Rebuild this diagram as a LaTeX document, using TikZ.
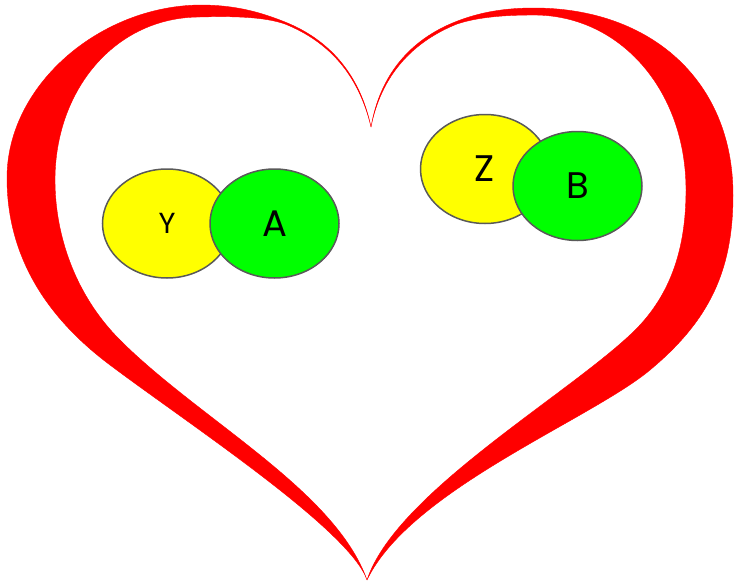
\documentclass[tikz,border=0pt]{standalone}
\usepackage{fontspec}
\setmainfont{Poppins}
\usetikzlibrary{shapes.geometric}
\definecolor{heartred}{RGB}{255,0,0}
\definecolor{ballyellow}{RGB}{255,255,0}
\definecolor{ballgreen}{RGB}{0,255,0}
\definecolor{ballrim}{RGB}{89,89,89}
\tikzset{
    ball/.style={
        ellipse, draw=ballrim, line width=1.5pt, inner sep=0pt,
        minimum width=129pt, minimum height=109pt,
        font=\fontsize{37}{37}\selectfont
    },
    yellow ball/.style={ball, fill=ballyellow},
    green ball/.style={ball, fill=ballgreen},
    heart band/.style={fill=heartred, draw=heartred, line width=0.4pt}
}

\begin{document}
\begin{tikzpicture}[x=1pt,y=-1pt]
    \useasboundingbox (0,0) rectangle (734,584);
    \coordinate (cusp) at (371,127);
    \coordinate (tip) at (367,580);
    % left half of the heart
    \filldraw[heart band] (cusp) .. controls (360,75) and (330,40) .. (285,22)
        .. controls (260,12) and (235,5) .. (200,5)
        .. controls (100,6) and (7,85) .. (7,178)
        .. controls (7,260) and (50,320) .. (110,365)
        .. controls (190,425) and (350,530) .. (tip)
        .. controls (335,490) and (200,420) .. (120,340)
        .. controls (75,295) and (55,235) .. (55,180)
        .. controls (55,90) and (115,17) .. (200,17)
        .. controls (235,16) and (265,17) .. (285,24)
        .. controls (330,42) and (359,76) .. (cusp) -- cycle;
    % right half of the heart
    \filldraw[heart band] (cusp) .. controls (380,75) and (410,40) .. (455,22)
        .. controls (480,12) and (505,8) .. (534,8)
        .. controls (650,8) and (733,80) .. (733,195)
        .. controls (733,270) and (710,320) .. (650,370)
        .. controls (590,420) and (410,490) .. (tip)
        .. controls (395,495) and (560,400) .. (630,335)
        .. controls (670,298) and (686,250) .. (686,190)
        .. controls (686,90) and (620,15) .. (534,15)
        .. controls (505,15) and (478,17) .. (457,24)
        .. controls (412,42) and (381,76) .. (cusp) -- cycle;
    % the four balls
    \node[yellow ball, font=\fontsize{29}{29}\selectfont] (y) at (167,223.5) {Y};
    \node[green ball] (a) at (274.5,223.5) {A};
    \node[yellow ball] (z) at (485,169) {Z};
    \node[green ball] (b) at (577.5,186) {B};
\end{tikzpicture}
\end{document}
